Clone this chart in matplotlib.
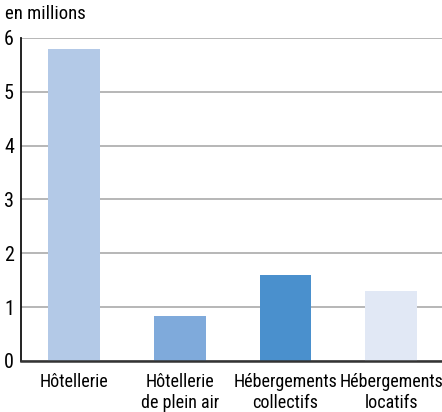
import matplotlib
matplotlib.use("Agg")
import matplotlib.pyplot as plt
from matplotlib import font_manager

categories = ["Hôtellerie", "Hôtellerie\nde plein air", "Hébergements\ncollectifs", "Hébergements\nlocatifs"]
values = [5.8, 0.84, 1.6, 1.3]
colors = ["#b3c9e7", "#7faadb", "#4a90cd", "#e1e8f5"]
yticks = [0, 1, 2, 3, 4, 5, 6]

# narrow sans like the original, whichever is installed
names = {f.name for f in font_manager.fontManager.ttflist}
family = "DejaVu Sans"
for cand in ["Liberation Sans Narrow", "Roboto Condensed", "Archivo Narrow", "PT Sans Narrow", "IBM Plex Sans Condensed"]:
    if cand in names:
        family = cand
        break
plt.rcParams["font.family"] = [family, "DejaVu Sans"]

fig = plt.figure(figsize=(4.42, 4.12), dpi=100)
ax = fig.add_axes([0.0475, 0.1238, 0.9525, 0.784])

x = range(len(categories))
ax.bar(x, values, width=0.49, color=colors, zorder=3)

ax.set_xlim(-0.5, 3.48)
ax.set_ylim(0, 6)
ax.set_yticks(yticks)
ax.set_yticklabels([str(t) for t in yticks], fontsize=14.5)
ax.set_xticks(list(x))
ax.set_xticklabels(categories, fontsize=13, linespacing=1.15)
ax.tick_params(axis="x", length=0, pad=9)
ax.tick_params(axis="y", length=0, pad=5)

ax.grid(axis="y", color="#aaaaaa", linewidth=1.2, zorder=0)
ax.spines["top"].set_visible(False)
ax.spines["right"].set_visible(False)
ax.spines["left"].set_color("#111111")
ax.spines["left"].set_linewidth(1.3)
ax.spines["bottom"].set_color("#333333")
ax.spines["bottom"].set_linewidth(1.8)
ax.spines["bottom"].set_zorder(4)

fig.text(0.012, 0.988, "en millions", fontsize=13.5, ha="left", va="top")

fig.savefig("out.png", dpi=100)
